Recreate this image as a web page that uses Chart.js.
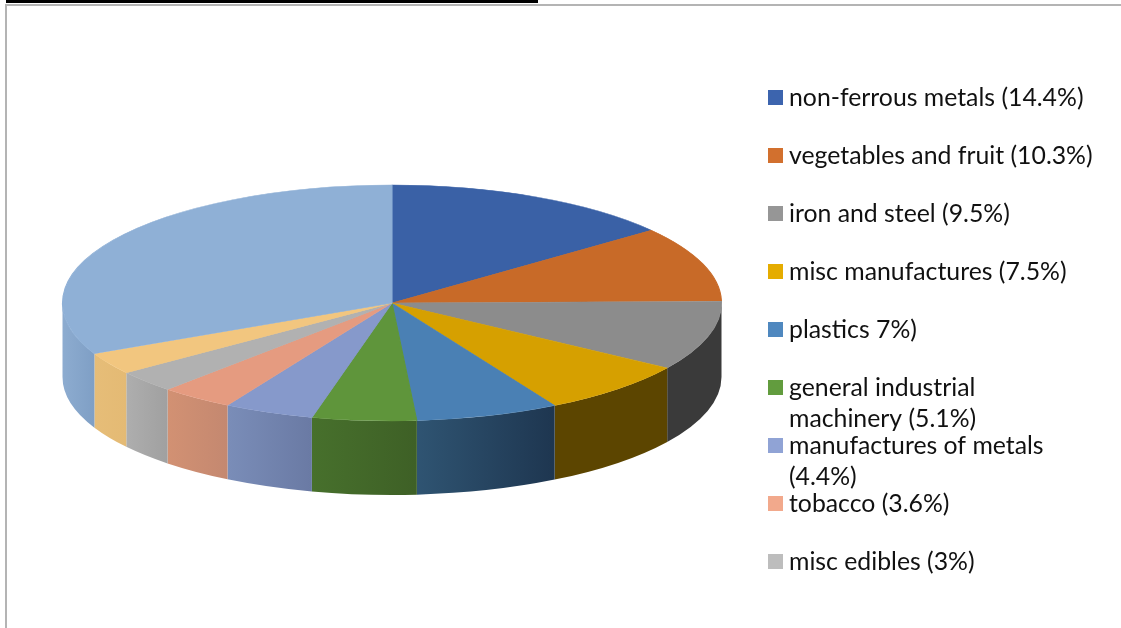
<!DOCTYPE html>
<html>
<head>
<meta charset="utf-8">
<title>Exports pie</title>
<script src="https://cdn.jsdelivr.net/npm/chart.js@4"></script>
<style>
  html, body { margin: 0; padding: 0; background: #fff; overflow: hidden; }
  #wrap { position: relative; width: 1121px; height: 628px; }
  #topBar { position: absolute; left: 6px; top: 0; width: 532px; height: 3px; background: #000; }
  #topLine { position: absolute; left: 5px; top: 4px; right: 0; height: 2px; background: #b4b4b4; }
  #leftLine { position: absolute; left: 5px; top: 4px; bottom: 0; width: 2px; background: #b4b4b4; }
</style>
</head>
<body>
<div id="wrap">
  <canvas id="myChart" width="1121" height="628"></canvas>
  <div id="topBar"></div>
  <div id="topLine"></div>
  <div id="leftLine"></div>
</div>
<script>
// Data
const categories = [
  ['non-ferrous metals (14.4%)'],
  ['vegetables and fruit (10.3%)'],
  ['iron and steel (9.5%)'],
  ['misc manufactures (7.5%)'],
  ['plastics 7%)'],
  ['general industrial', 'machinery (5.1%)'],
  ['manufactures of metals', '(4.4%)'],
  ['tobacco (3.6%)'],
  ['misc edibles (3%)']
];
// the last two slices are not named in the legend, it is cut off there
const values = [14.4, 10.3, 9.5, 7.5, 7, 5.1, 4.4, 3.6, 3, 3, 32];

const topColors = ['#3a61a6', '#c86a28', '#8c8c8c', '#d6a000', '#4a80b4', '#5f953b',
  '#8699cb', '#e59b80', '#b1b1b1', '#f2c67f', '#8fb0d6'];
const legendColors = ['#3c64ae', '#d2702e', '#969696', '#e5ac00', '#4f88bf', '#629c3e',
  '#90a3d5', '#f2a98c', '#bdbdbd'];
// side wall of each slice, left and right end of the gradient
const sideLeft = ['#000', '#000', '#3a3a3a', '#5c4500', '#2f5472', '#47702c',
  '#7a8db8', '#d29173', '#aeaeae', '#e6bd78', '#8dacd0'];
const sideRight = ['#000', '#000', '#3a3a3a', '#5c4500', '#1e3650', '#3e6026',
  '#6a7aa4', '#c48870', '#a0a0a0', '#e4ba74', '#7f9fc5'];

// Squash the round pie into a tilted disc
const PIE_RX = 329.5;
const PIE_RY = 118;
const PIE_DEPTH = 74;

const tiltPlugin = {
  id: 'tilt',
  beforeDatasetsDraw(chart) {
    const ctx = chart.ctx;
    const arcs = chart.getDatasetMeta(0).data;
    const cx = arcs[0].x;
    const cy = arcs[0].y;
    const r = arcs[0].outerRadius;
    const sx = PIE_RX / r;
    const sy = PIE_RY / r;
    const d = PIE_DEPTH / sy;

    ctx.save();
    ctx.translate(cx, cy);
    ctx.scale(sx, sy);
    ctx.translate(-cx, -cy);

    // side walls, only the front half of the disc shows
    arcs.forEach((arc, i) => {
      const a0 = Math.max(arc.startAngle, 0);
      const a1 = Math.min(arc.endAngle, Math.PI);
      if (a1 <= a0) return;
      const g = ctx.createLinearGradient(cx + r * Math.cos(a1), 0, cx + r * Math.cos(a0), 0);
      g.addColorStop(0, sideLeft[i]);
      g.addColorStop(1, sideRight[i]);
      ctx.beginPath();
      ctx.arc(cx, cy, r, a0, a1);
      ctx.arc(cx, cy + d, r, a1, a0, true);
      ctx.closePath();
      ctx.fillStyle = g;
      ctx.fill();
    });
  },
  afterDatasetsDraw(chart) {
    chart.ctx.restore();
  }
};

// Legend: one row every 58px, wrapped rows run into the next one like in the original
const legendPlugin = {
  id: 'sideLegend',
  afterDraw(chart) {
    const ctx = chart.ctx;
    ctx.save();
    ctx.textAlign = 'left';
    ctx.textBaseline = 'alphabetic';
    ctx.font = '24.8px Lato';
    categories.forEach((lines, i) => {
      const base = 105 + i * 58;
      ctx.fillStyle = legendColors[i];
      ctx.fillRect(768, base - 15, 15, 15);
      ctx.fillStyle = '#111';
      lines.forEach((line, k) => ctx.fillText(line, 789, base + 1 + k * 31));
    });
    ctx.restore();
  }
};

const chart = new Chart(document.getElementById('myChart').getContext('2d'), {
  type: 'pie',
  data: {
    labels: categories.map(lines => lines.join(' ')),
    datasets: [{
      data: values,
      backgroundColor: topColors,
      borderColor: topColors,
      borderWidth: 1,
      clip: false
    }]
  },
  options: {
    responsive: false,
    animation: false,
    layout: { padding: { right: 337, bottom: 22 } },
    plugins: {
      legend: { display: false },
      tooltip: { enabled: false }
    }
  },
  plugins: [tiltPlugin, legendPlugin]
});
</script>
</body>
</html>
